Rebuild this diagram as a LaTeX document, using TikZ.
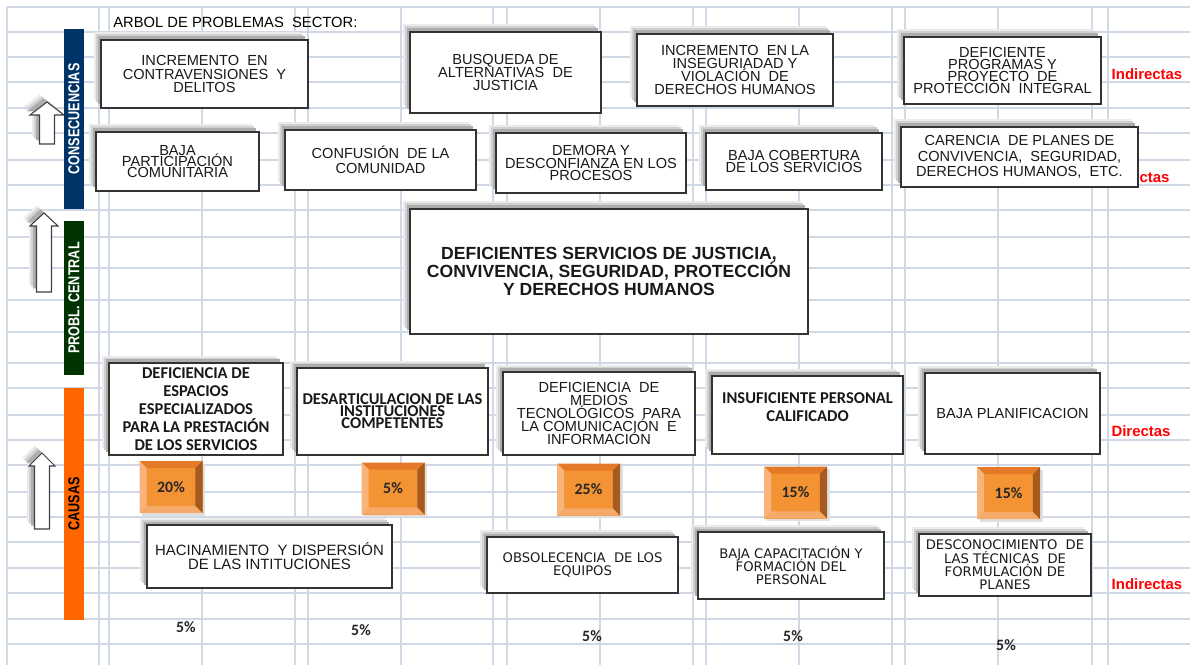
\documentclass[tikz,border=0pt]{standalone}
\usepackage{fontspec}
\setmainfont{Liberation Sans}
\newfontfamily\calib{Carlito}
\newfontfamily\verd{DejaVu Sans}
\newfontfamily\narrowf[FakeStretch=0.8]{Liberation Sans}
\usetikzlibrary{shadows}
\definecolor{gridc}{RGB}{208,215,229}
\definecolor{navybar}{RGB}{0,51,102}
\definecolor{greenbar}{RGB}{0,51,0}
\definecolor{orangebar}{RGB}{255,102,0}
\definecolor{pctmid}{RGB}{243,147,51}
\definecolor{pcttop}{RGB}{228,122,40}
\definecolor{pctleft}{RGB}{248,180,122}
\definecolor{pctbot}{RGB}{245,170,105}
\definecolor{pctright}{RGB}{166,90,30}
\definecolor{redlbl}{RGB}{255,0,0}
\lineskiplimit=-50pt

\begin{document}
\begin{tikzpicture}[
  x=0.02cm, y=-0.02cm,
  gridline/.style={draw=gridc, line width=0.6pt},
  shad/.style={general shadow={fill=black!8, shadow xshift=-0.15cm, shadow yshift=0.15cm},
               general shadow={fill=black!18, shadow xshift=-0.11cm, shadow yshift=0.11cm},
               general shadow={fill=black!32, shadow xshift=-0.07cm, shadow yshift=0.07cm}},
  sz/.style 2 args={minimum width=#1*0.02cm, minimum height=#2*0.02cm},
  box/.style={draw=black!80, line width=0.7pt, fill=white, align=center, inner sep=1pt, shad,
              font=\fontsize{8.3}{7.5}\selectfont, text=black!90},
  calibri/.style={font=\calib\bfseries\fontsize{9.4}{#1}\selectfont},
  bar/.style={rotate=90, inner sep=0pt, font=\narrowf\bfseries\fontsize{9}{9}\selectfont},
  pctlbl/.style={font=\calib\bfseries\fontsize{9}{9}\selectfont, text=black!85},
  pct/.style={sz={63}{52}, inner sep=0pt, fill=pctmid, pctlbl,
    general shadow={fill=black!12, shadow xshift=0.05cm, shadow yshift=-0.05cm},
    path picture={
      \fill[pcttop] (path picture bounding box.north west) -- (path picture bounding box.north east)
        -- ([shift={(-4pt,-4pt)}]path picture bounding box.north east)
        -- ([shift={(4pt,-4pt)}]path picture bounding box.north west) -- cycle;
      \fill[pctbot] (path picture bounding box.south west) -- (path picture bounding box.south east)
        -- ([shift={(-4pt,4pt)}]path picture bounding box.south east)
        -- ([shift={(4pt,4pt)}]path picture bounding box.south west) -- cycle;
      \fill[pctleft] (path picture bounding box.north west)
        -- ([shift={(4pt,-4pt)}]path picture bounding box.north west)
        -- ([shift={(4pt,4pt)}]path picture bounding box.south west)
        -- (path picture bounding box.south west) -- cycle;
      \fill[pctright] (path picture bounding box.north east)
        -- ([shift={(-4pt,-4pt)}]path picture bounding box.north east)
        -- ([shift={(-4pt,4pt)}]path picture bounding box.south east)
        -- (path picture bounding box.south east) -- cycle;
    }},
  lbl/.style={text=redlbl, font=\bfseries\fontsize{8.5}{8.5}\selectfont},
  uparr/.style={draw=black!75, fill=white, line width=0.6pt, shad}
]
  \fill[white] (0,0) rectangle (1190,665);
  \useasboundingbox (0,0) rectangle (1190,665);

  % spreadsheet grid
  \foreach \gx in {7,99,109,202,295,308,401,493,507,600,693,706,799,892,905,998,1092,1108}
    \draw[gridline] (\gx,7) -- (\gx,665);
  \foreach \gy in {7,32,57,82,108,133,160,185,210,237,268,300,332,363,388,415,440,465,492,517,542,568,593,619,644}
    \draw[gridline] (7,\gy) -- (1190,\gy);

  \node[anchor=west, inner sep=0pt, font=\fontsize{8.4}{9}\selectfont] (title) at (113,22) {ARBOL DE PROBLEMAS\ \ SECTOR:};

  % arrows and side bars
  \foreach \cx/\tp/\bt/\hw in {47/102/144/17, 44/213/292/14, 42/453/529/13}
    \draw[uparr] (\cx-7.5,\bt) -- (\cx-7.5,\tp+13) -- (\cx-\hw,\tp+13) -- (\cx,\tp)
      -- (\cx+\hw,\tp+13) -- (\cx+7.5,\tp+13) -- (\cx+7.5,\bt) -- cycle;

  \node[bar, fill=navybar, text=white, sz={180}{20}] (consec) at (74,119) {CONSECUENCIAS};
  \node[bar, fill=greenbar, text=white, sz={154}{20}] (problc) at (74,298) {PROBL.\ CENTRAL};
  \node[bar, fill=orangebar, text=black, sz={232}{20}] (causas) at (74,504) {CAUSAS};

  % consecuencias indirectas
  \node[box, sz={207}{68}] (incdel) at (204.5,74) {INCREMENTO\ \ EN\\CONTRAVENSIONES\ \ Y\\DELITOS};
  \node[box, sz={191}{81}] (busqjust) at (505.5,72.5) {BUSQUEDA DE\\ALTERNATIVAS\ \ DE\\JUSTICIA};
  \node[box, sz={196}{72}] (insegdh) at (735,70) {INCREMENTO\ \ EN LA\\INSEGURIADAD Y\\VIOLACIÓN\ \ DE\\DERECHOS HUMANOS};
  \node[box, sz={197}{67}, font=\fontsize{8.3}{7}\selectfont] (defprog) at (1002.5,70.5) {DEFICIENTE\\PROGRAMAS Y\\PROYECTO\ \ DE\\PROTECCIÓN\ \ INTEGRAL};
  \node[lbl] (indtop) at (1147,74) {Indirectas};

  % consecuencias directas
  \node[lbl] (dirtop) at (1140,177) {Directas};
  \node[box, sz={163}{59}, font=\fontsize{8.3}{6.2}\selectfont] (bajapart) at (177.5,161.5) {BAJA\\PARTICIPACIÓN\\COMUNITARIA};
  \node[box, sz={191}{60}, font=\fontsize{8.3}{8.5}\selectfont] (confcom) at (380.5,160) {CONFUSIÓN\ \ DE LA\\COMUNIDAD};
  \node[box, sz={190}{60}, font=\fontsize{8.3}{6.9}\selectfont] (demdesc) at (591,163) {DEMORA Y\\DESCONFIANZA EN LOS\\PROCESOS};
  \node[box, sz={176}{57}, font=\fontsize{8.3}{6.9}\selectfont] (bajacob) at (794,161.5) {BAJA COBERTURA\\DE LOS SERVICIOS};
  \node[box, sz={237}{60}, font=\fontsize{8.3}{9}\selectfont] (carplan) at (1019.5,157) {CARENCIA\ \ DE PLANES DE\\CONVIVENCIA,\ \ SEGURIDAD,\\DERECHOS HUMANOS,\ \ ETC.};

  % problema central
  \node[box, sz={398}{125}, font=\bfseries\fontsize{10}{10}\selectfont] (central) at (609,271.5)
    {DEFICIENTES SERVICIOS DE JUSTICIA,\\CONVIVENCIA, SEGURIDAD, PROTECCIÓN\\Y DERECHOS HUMANOS};

  % causas directas
  \node[box, sz={174}{92}, calibri=10.2] (defesp) at (196,409)
    {DEFICIENCIA DE\\ESPACIOS\\ESPECIALIZADOS\\PARA LA PRESTACIÓN\\DE LOS SERVICIOS};
  \node[box, sz={191}{87}, inner sep=0pt, calibri=6.9] (desart) at (392.5,411.5)
    {DESARTICULACION DE LAS\\INSTITUCIONES\\COMPETENTES};
  \node[box, sz={192}{83}, font=\fontsize{8.3}{7.4}\selectfont] (defmed) at (599,413.5)
    {DEFICIENCIA\ \ DE\\MEDIOS\\TECNOLÓGICOS\ \ PARA\\LA COMUNICACIÓN\ \ E\\INFORMACIÓN};
  \node[box, sz={191}{78}] (insuf) at (807.5,415) {};
  \node[align=center, calibri=10.2, text=black!90] (insuftxt) at (807.5,407)
    {INSUFICIENTE PERSONAL\\CALIFICADO};
  \node[box, sz={175}{81}, font=\fontsize{8.3}{8}\selectfont] (bajaplan) at (1012.5,413.5) {BAJA PLANIFICACION};
  \node[lbl] (dircau) at (1141,431) {Directas};

  % porcentajes
  \node[pct] (p20) at (171,487) {20\%};
  \node[pct] (p5a) at (393,488.5) {5\%};
  \node[pct] (p25) at (588.5,489.5) {25\%};
  \node[pct] (p15a) at (795.5,492.5) {15\%};
  \node[pct] (p15b) at (1008.5,493) {15\%};

  % causas indirectas
  \node[box, sz={245}{63}, font=\fontsize{8.5}{8}\selectfont] (hacin) at (269.5,556.5)
    {HACINAMIENTO\ \ Y DISPERSIÓN\\DE LAS INTITUCIONES};
  \node[box, sz={191}{56}, font=\verd\fontsize{7.5}{7.4}\selectfont] (obsol) at (582.5,565)
    {OBSOLECENCIA\ \ DE LOS\\EQUIPOS};
  \node[box, sz={186}{67}, font=\verd\fontsize{7.5}{7.4}\selectfont] (bajacap) at (791,565.5)
    {BAJA CAPACITACIÓN Y\\FORMACIÓN DEL\\PERSONAL};
  \node[box, sz={172}{62}, font=\verd\fontsize{7.5}{7.6}\selectfont] (descon) at (1005,565)
    {DESCONOCIMIENTO\ \ DE\\LAS TÉCNICAS\ \ DE\\FORMULACIÓN DE\\PLANES};
  \node[lbl] (indcau) at (1147,584) {Indirectas};

  % porcentajes inferiores
  \node[pctlbl] (b1) at (186,627) {5\%};
  \node[pctlbl] (b2) at (361,630) {5\%};
  \node[pctlbl] (b3) at (592,636) {5\%};
  \node[pctlbl] (b4) at (793,636) {5\%};
  \node[pctlbl] (b5) at (1006,645) {5\%};
\end{tikzpicture}
\end{document}
